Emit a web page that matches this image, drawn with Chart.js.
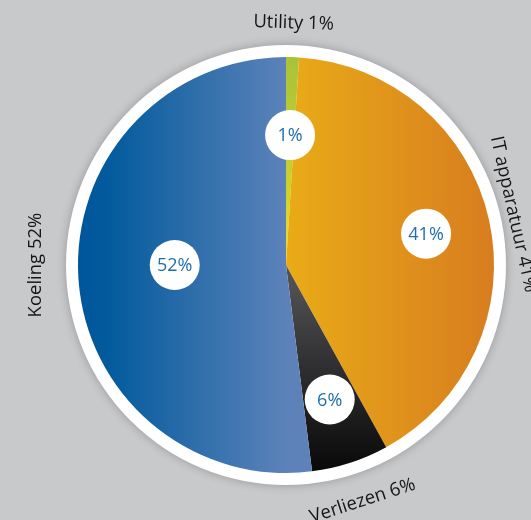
<!DOCTYPE html>
<html>
<head>
<meta charset="utf-8">
<script src="https://cdn.jsdelivr.net/npm/chart.js@4"></script>
<style>
  html, body { margin: 0; padding: 0; background: #c8c9cb; }
  #wrap { width: 531px; height: 520px; }
</style>
</head>
<body>
<div id="wrap"><canvas id="pieChart" width="531" height="520"></canvas></div>
<script>
// data
const categories = ['Utility', 'IT apparatuur', 'Verliezen', 'Koeling'];
const shares = [1, 41, 6, 52];

// label placement (fraction of radius for the white bubbles, px for outer text, degree nudge)
const bubbleRadius = [0.625, 0.69, 0.68, 0.535];
const outerLabelRadius = [242, 233, 248, 250];
const angleNudge = [0, 0, 0, 3.6];

const FONT = '"Open Sans", "Noto Sans", sans-serif';

function sliceFill(ctx) {
  const area = ctx.chart.chartArea;
  if (!area) return '#888';
  const c = ctx.chart.ctx;
  const cx = (area.left + area.right) / 2;
  const cy = (area.top + area.bottom) / 2;
  const r = Math.min(area.width, area.height) / 2;
  let g;
  switch (ctx.dataIndex) {
    case 0: // utility
      g = c.createLinearGradient(0, cy - r, 0, cy);
      g.addColorStop(0, '#a9c23a');
      g.addColorStop(0.6, '#c8d22c');
      g.addColorStop(1, '#ece41c');
      return g;
    case 1: // IT
      g = c.createLinearGradient(cx, 0, cx + r, 0);
      g.addColorStop(0, '#e9ab17');
      g.addColorStop(1, '#d77d1f');
      return g;
    case 2: // verliezen
      g = c.createLinearGradient(0, cy + r * 0.1, 0, cy + r);
      g.addColorStop(0, '#505053');
      g.addColorStop(0.45, '#2e2e30');
      g.addColorStop(1, '#080808');
      return g;
    default: // koeling
      g = c.createLinearGradient(cx - r, 0, cx, 0);
      g.addColorStop(0, '#00559a');
      g.addColorStop(0.15, '#035b9d');
      g.addColorStop(1, '#5c82b9');
      return g;
  }
}

// white rim with soft shadow behind the pie
const rimPlugin = {
  id: 'rim',
  beforeDatasetsDraw(chart) {
    const arc = chart.getDatasetMeta(0).data[0];
    if (!arc) return;
    const c = chart.ctx;
    c.save();
    c.beginPath();
    c.arc(arc.x, arc.y, arc.outerRadius + 12, 0, Math.PI * 2);
    c.shadowColor = 'rgba(0,0,0,0.25)';
    c.shadowBlur = 10;
    c.fillStyle = '#ffffff';
    c.fill();
    c.restore();
  }
};

// bubbles with percentage + rotated outer labels
const labelPlugin = {
  id: 'labels',
  afterDatasetsDraw(chart) {
    const c = chart.ctx;
    const arcs = chart.getDatasetMeta(0).data;
    arcs.forEach((arc, i) => {
      const mid = (arc.startAngle + arc.endAngle) / 2 + angleNudge[i] * Math.PI / 180;
      const rr = arc.outerRadius * bubbleRadius[i];
      const x = arc.x + Math.cos(mid) * rr;
      const y = arc.y + Math.sin(mid) * rr;
      c.save();
      c.beginPath();
      c.arc(x, y, 25, 0, Math.PI * 2);
      c.fillStyle = '#ffffff';
      c.fill();
      c.fillStyle = '#1f6fac';
      c.font = '18px ' + FONT;
      c.textAlign = 'center';
      c.textBaseline = 'middle';
      c.fillText(shares[i] + '%', x, y + 1);
      c.restore();

      // outer label along the rim
      const ro = outerLabelRadius[i];
      const ox = arc.x + Math.cos(mid) * ro;
      const oy = arc.y + Math.sin(mid) * ro;
      let rot = mid + Math.PI / 2;
      const deg = ((rot * 180 / Math.PI) % 360 + 360) % 360;
      if (deg > 100 && deg < 260) rot -= Math.PI;
      c.save();
      c.translate(ox, oy);
      c.rotate(rot);
      c.fillStyle = '#161616';
      c.font = '18.5px ' + FONT;
      c.textAlign = 'center';
      c.textBaseline = 'middle';
      c.fillText(categories[i] + ' ' + shares[i] + '%', 0, 0);
      c.restore();
    });
  }
};

new Chart(document.getElementById('pieChart').getContext('2d'), {
  type: 'pie',
  data: {
    labels: categories,
    datasets: [{
      data: shares,
      backgroundColor: sliceFill,
      borderWidth: 0,
      hoverOffset: 0
    }]
  },
  options: {
    responsive: false,
    animation: false,
    layout: { padding: { left: 78, right: 37, top: 57, bottom: 47 } },
    plugins: {
      legend: { display: false },
      tooltip: { enabled: false }
    }
  },
  plugins: [rimPlugin, labelPlugin]
});
</script>
</body>
</html>
